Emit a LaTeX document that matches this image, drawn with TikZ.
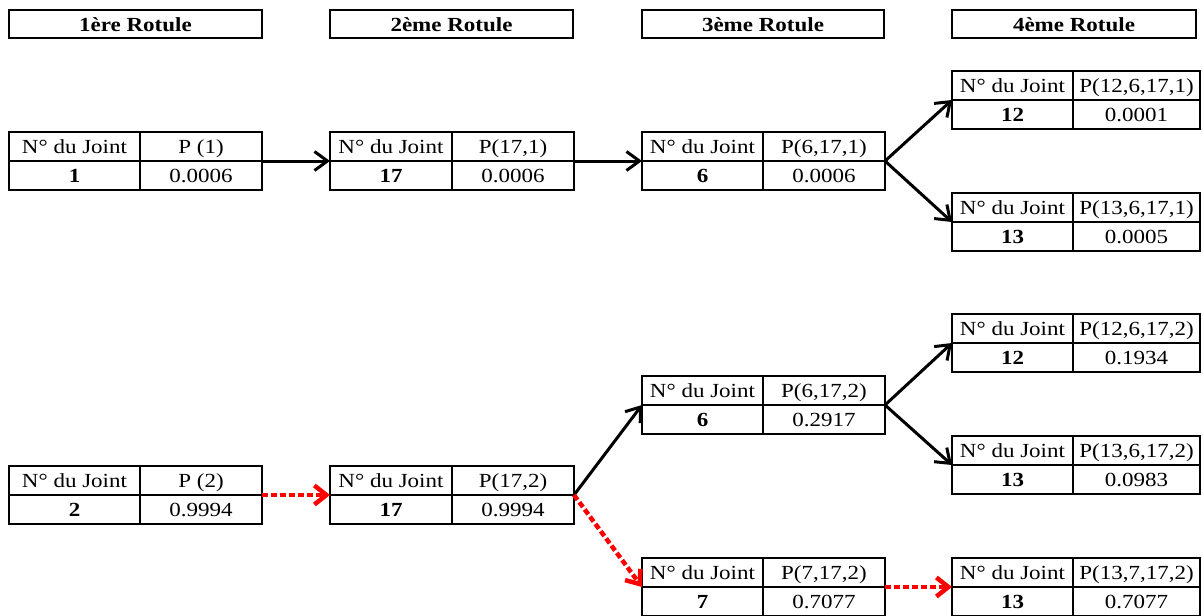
\documentclass[tikz,border=0pt]{standalone}
\usepackage{fontspec}
\setmainfont[FakeStretch=1.15]{Liberation Serif}
\usetikzlibrary{arrows.meta}

\tikzset{
  cell/.style={draw,line width=2pt,inner sep=0pt,outer sep=0pt,minimum height=29pt,
    anchor=north west,text height=16pt,text depth=2pt,font=\fontsize{20}{22}\selectfont},
  head/.style={cell,minimum height=28pt,font=\fontsize{20}{22}\selectfont\bfseries},
  link/.style={line width=3pt,-{Straight Barb[length=13pt,width=19pt]}},
  redlink/.style={red,line width=4.5pt,dash pattern=on 6pt off 3pt,
    -{Straight Barb[length=12pt,width=19pt]}}
}

% name, left, middle, right, top, joint, proba, value
\newcommand{\jointtab}[8]{%
  \node[cell,minimum width=#3pt-#2pt] (#1-a) at (#2,#5) {N° du Joint};
  \node[cell,minimum width=#4pt-#3pt] (#1-b) at (#1-a.north east) {#7};
  \node[cell,minimum width=#3pt-#2pt] (#1-c) at (#1-a.south west) {\bfseries #6};
  \node[cell,minimum width=#4pt-#3pt] (#1-d) at (#1-b.south west) {#8};
}

\begin{document}
\begin{tikzpicture}[x=1pt,y=-1pt]
\useasboundingbox (0,0) rectangle (1203,616);

% rotules
\node[head,minimum width=253pt] (h1) at (9,10) {1ère Rotule};
\node[head,minimum width=243pt] (h2) at (330,10) {2ème Rotule};
\node[head,minimum width=242pt] (h3) at (642,10) {3ème Rotule};
\node[head,minimum width=244pt] (h4) at (952,10) {4ème Rotule};

% branche 1
\jointtab{ja}{9}{140}{262}{132}{1}{P (1)}{0.0006}
\jointtab{jb}{330}{452}{574}{132}{17}{P(17,1)}{0.0006}
\jointtab{jc}{642}{763}{885}{132}{6}{P(6,17,1)}{0.0006}
\jointtab{jd}{952}{1073}{1200}{71}{12}{P(12,6,17,1)}{0.0001}
\jointtab{je}{952}{1073}{1200}{193}{13}{P(13,6,17,1)}{0.0005}

% branche 2
\jointtab{ka}{9}{140}{262}{466}{2}{P (2)}{0.9994}
\jointtab{kb}{330}{452}{574}{466}{17}{P(17,2)}{0.9994}
\jointtab{kc}{642}{763}{885}{376}{6}{P(6,17,2)}{0.2917}
\jointtab{kd}{642}{763}{885}{558}{7}{P(7,17,2)}{0.7077}
\jointtab{ke}{952}{1073}{1200}{314}{12}{P(12,6,17,2)}{0.1934}
\jointtab{kf}{952}{1073}{1200}{436}{13}{P(13,6,17,2)}{0.0983}
\jointtab{kg}{952}{1073}{1200}{558}{13}{P(13,7,17,2)}{0.7077}

\draw[link] (ja-b.south east) -- (jb-a.south west);
\draw[link] (jb-b.south east) -- (jc-a.south west);
\draw[link] (jc-b.south east) -- (jd-a.south west);
\draw[link] (jc-b.south east) -- (je-a.south west);

\draw[redlink] (ka-b.south east) -- (kb-a.south west);
\draw[link] (kb-b.south east) -- (kc-a.south west);
\draw[redlink] (kb-b.south east) -- (kd-a.south west);
\draw[link] (kc-b.south east) -- (ke-a.south west);
\draw[link] (kc-b.south east) -- (kf-a.south west);
\draw[redlink] (kd-b.south east) -- (kg-a.south west);

\end{tikzpicture}
\end{document}
